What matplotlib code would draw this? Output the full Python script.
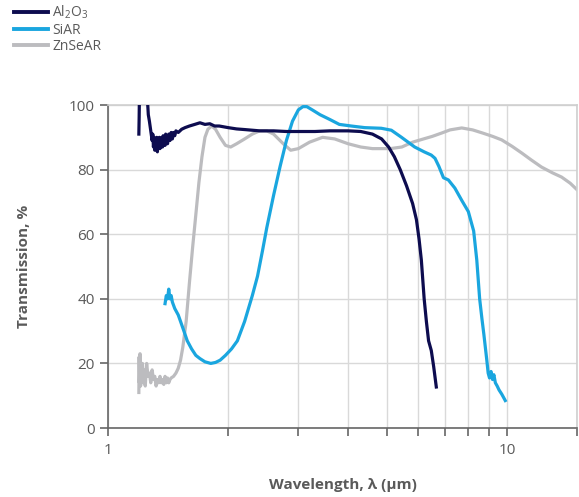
import numpy as np
import matplotlib
matplotlib.use('Agg')
import matplotlib.pyplot as plt
from matplotlib.ticker import FixedLocator, NullFormatter, FixedFormatter

#__________________________ DATOS ________________________
al_x = [1.195, 1.197, 1.199, 1.205, 1.25, 1.258, 1.262, 1.27, 1.28, 1.285,
        1.29, 1.295, 1.3, 1.305, 1.31, 1.315, 1.32, 1.325, 1.33, 1.335,
        1.34, 1.345, 1.35, 1.355, 1.36, 1.365, 1.37, 1.375, 1.38, 1.385,
        1.39, 1.395, 1.40, 1.405, 1.41, 1.42, 1.43, 1.44, 1.45, 1.46,
        1.47, 1.48, 1.50, 1.53,
        1.56, 1.6, 1.65, 1.7, 1.75, 1.8, 1.85, 1.9, 2.0, 2.1,
        2.2, 2.4, 2.6, 2.8, 3.0, 3.3, 3.6, 4.0, 4.3, 4.6,
        4.85, 5.05, 5.22, 5.4, 5.6, 5.8, 5.93, 6.02, 6.1, 6.2,
        6.28, 6.36, 6.46, 6.55, 6.65]
al_y = [91, 96, 103, 106, 104, 100, 97, 95, 92, 90.5,
        89, 91, 87, 90, 86, 89.5, 87, 90, 85.5, 89,
        87, 90, 86.5, 89.5, 87.5, 90, 87, 90.5, 88, 90,
        87.5, 91, 88.5, 90.5, 88, 91, 89, 91.5, 89.5, 91.5,
        90.5, 92, 91.5, 92.5,
        93, 93.5, 94, 94.5, 94, 94.2, 93.5, 93.5, 93, 92.6,
        92.4, 92, 92, 91.8, 91.8, 91.8, 92, 92, 91.8, 91,
        89.5, 87, 84, 80, 75, 69.5, 64.5, 58.5, 52, 40,
        33, 27, 24, 19, 12.7]

si_x = [1.39, 1.40, 1.41, 1.42, 1.43, 1.44, 1.45, 1.47, 1.50, 1.52,
        1.55, 1.58, 1.62, 1.66, 1.70, 1.75, 1.81, 1.86, 1.91, 1.97,
        2.04, 2.11, 2.2, 2.3, 2.37, 2.44, 2.5, 2.6, 2.7, 2.8,
        2.9, 3.0, 3.08, 3.15, 3.25, 3.4, 3.6, 3.8, 4.07, 4.4,
        4.84, 5.13, 5.44, 5.87, 6.2, 6.46, 6.6, 6.75, 6.93, 7.13,
        7.4, 7.7, 8.0, 8.25, 8.4, 8.54, 8.65, 8.75, 8.9, 8.97,
        9.04, 9.12, 9.2, 9.27, 9.35, 9.45, 9.55, 9.7, 9.8, 9.9]
si_y = [38.5, 41, 40, 43, 40, 41, 39, 37, 35, 33,
        30, 27, 24.5, 22.5, 21.5, 20.5, 20, 20.3, 21, 22.5,
        24.5, 27, 33, 41, 47, 55, 62, 72, 81, 89,
        95, 98.5, 99.5, 99.5, 98.5, 97, 95.5, 94, 93.5, 93,
        92.8, 92.2, 90, 87, 85.5, 84.5, 83.5, 81, 77.5, 76.8,
        74.3, 70.5, 67, 61, 52, 40, 34, 29, 21, 17,
        15.5, 17.5, 15, 16.5, 14, 13, 11.8, 10.5, 9.5, 8.5]

zn_x = [1.195, 1.197, 1.199, 1.203, 1.207, 1.21, 1.215, 1.22, 1.225, 1.23,
        1.24, 1.25, 1.26, 1.27, 1.28, 1.29, 1.3, 1.31, 1.32, 1.33,
        1.34, 1.35, 1.36, 1.37, 1.38, 1.39, 1.40, 1.41, 1.42, 1.43,
        1.44, 1.46, 1.48, 1.5, 1.52, 1.54, 1.57, 1.6, 1.63, 1.66,
        1.69, 1.72, 1.75, 1.78, 1.82, 1.86, 1.91, 1.97, 2.03, 2.1,
        2.2, 2.3, 2.4, 2.5, 2.6, 2.75, 2.87, 3.0, 3.2, 3.45,
        3.7, 4.0, 4.3, 4.6, 4.85, 5.1, 5.45, 5.8, 6.1, 6.5,
        6.85, 7.2, 7.7, 8.2, 8.7, 9.2, 9.7, 10.3, 10.9, 11.5,
        12.2, 13.0, 13.7, 14.4, 15.0]
zn_y = [11, 22, 14, 23, 13, 19, 15, 20, 14, 18,
        13, 20, 16, 17, 14, 18, 15, 16, 13, 15,
        14, 16, 14, 15, 13.5, 16, 14, 15.5, 14, 15,
        15.5, 16, 17, 18.5, 21, 25, 33, 45, 56, 66,
        76, 84, 90, 92.5, 93.5, 92.5, 90, 87.5, 87, 88,
        89.5, 91, 92, 92, 91, 88, 86, 86.5, 88.5, 90,
        89.5, 88, 87, 86.5, 86.5, 86.5, 87, 88.5, 89.3, 90.3,
        91.3, 92.3, 92.9, 92.3, 91.3, 90.3, 89.2, 87.2, 85.1, 83,
        80.8, 79, 77.7, 75.8, 73.7]

series_names = [r'Al$_2$O$_3$', 'SiAR', 'ZnSeAR']
x_ticks = [1, 2, 3, 4, 5, 6, 7, 8, 9, 10, 15]
x_labels = ['1', '', '', '', '', '', '', '', '', '10', '']
y_ticks = [0, 20, 40, 60, 80, 100]

#_______________________________ GRAFICO ______________________________________
plt.rcParams['font.family'] = ['Open Sans', 'DejaVu Sans']
plt.rcParams['mathtext.fontset'] = 'custom'
plt.rcParams['mathtext.rm'] = 'Open Sans'

gris_txt = '#5a5a5a'
gris_eje = '#666666'
gris_grid = '#d9d9d9'

fig = plt.figure(figsize=(5.79, 4.97), dpi=100)
ax = fig.add_axes([0.1865, 0.1388, 0.8105, 0.6499])

l1, = ax.plot(al_x, al_y, color='#0d0c4f', lw=2.3, solid_joinstyle='round')
l2, = ax.plot(si_x, si_y, color='#1aa6df', lw=2.3, solid_joinstyle='round')
l3, = ax.plot(zn_x, zn_y, color='#bcbcbf', lw=2.3, solid_joinstyle='round')
# el orden de dibujo: gris abajo
l3.set_zorder(2); l2.set_zorder(3); l1.set_zorder(4)

ax.set_xscale('log')
ax.set_xlim(1, 15)
ax.set_ylim(0, 100)

ax.xaxis.set_major_locator(FixedLocator(x_ticks))
ax.xaxis.set_major_formatter(FixedFormatter(x_labels))
ax.xaxis.set_minor_locator(FixedLocator([]))
ax.xaxis.set_minor_formatter(NullFormatter())
ax.set_yticks(y_ticks)

ax.grid(True, color=gris_grid, lw=1)
ax.set_axisbelow(True)

for s in ['top', 'right']:
    ax.spines[s].set_color('#cfcfcf')
    ax.spines[s].set_linewidth(1.2)
for s in ['left', 'bottom']:
    ax.spines[s].set_color(gris_eje)
    ax.spines[s].set_linewidth(1.2)

ax.tick_params(axis='both', colors=gris_eje, labelcolor=gris_txt,
               labelsize=11, length=6, width=1.2, direction='out')
ax.tick_params(axis='x', pad=5)

ax.set_xlabel('Wavelength, λ (μm)', fontsize=11, fontweight='bold',
              color=gris_txt, labelpad=14)
ax.set_ylabel('Transmission, %', fontsize=11, fontweight='bold',
              color=gris_txt, labelpad=27)

leg = fig.legend([l1, l2, l3], series_names, loc='upper left',
                 bbox_to_anchor=(0.003, 1.017), frameon=False,
                 handlelength=2.4, handletextpad=0.35, labelspacing=0.1,
                 fontsize=10, labelcolor=gris_txt)
for h in leg.get_lines():
    h.set_linewidth(2.8)

fig.savefig('out.png', dpi=100)
